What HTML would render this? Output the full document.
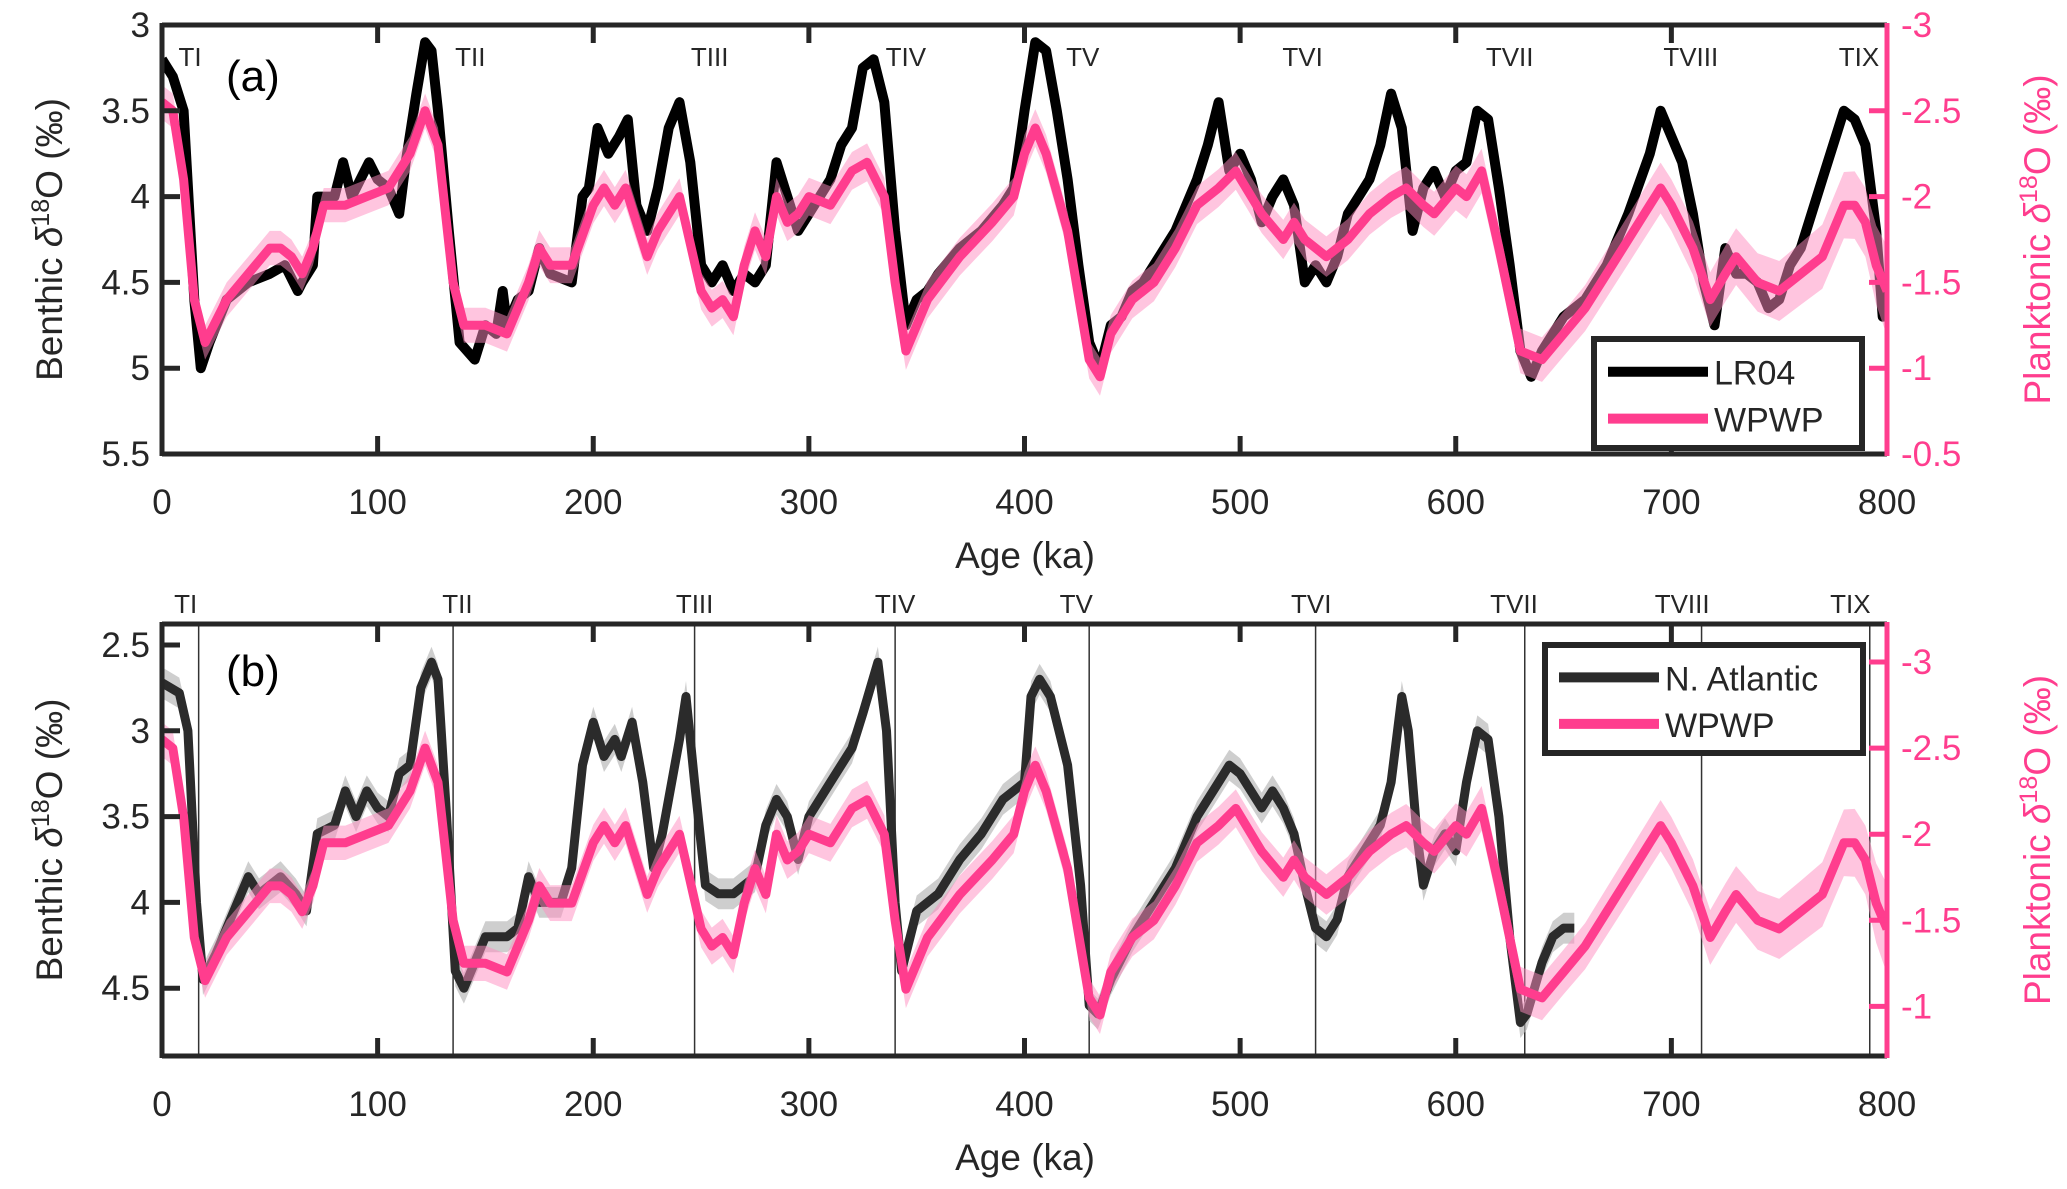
<!DOCTYPE html>
<html><head><meta charset="utf-8"><style>
html,body{margin:0;padding:0;background:#fff;}
svg{display:block;font-family:"Liberation Sans",Arial,sans-serif;}
</style></head><body>
<svg id="fig" width="2067" height="1189" viewBox="0 0 2067 1189" xmlns="http://www.w3.org/2000/svg"></svg>
<script>
// ---- data ----
const lr04Age=[0,5,10,15,18,22,30,40,50,57,63,65,70,72,80,84,88,92,96,100,105,110,113,118,122,125,128,133,138,145,150,155,158,160,165,170,175,180,190,195,198,202,207,212,216,220,225,230,235,240,245,250,255,260,265,270,275,280,285,290,295,300,310,315,320,325,330,335,340,345,350,355,360,370,380,390,395,400,405,410,415,420,425,430,435,440,445,450,455,460,470,480,485,490,495,500,505,510,515,520,525,530,535,540,545,550,555,560,565,570,575,580,585,590,595,600,605,610,615,620,625,630,635,640,645,650,660,670,680,690,695,700,705,710,715,720,725,730,735,740,745,750,755,760,770,780,785,790,795,798,800];
const lr04Val=[3.2,3.3,3.5,4.6,5.0,4.85,4.6,4.5,4.45,4.4,4.55,4.5,4.4,4.0,4.0,3.8,4.0,3.9,3.8,3.9,3.95,4.1,3.8,3.4,3.1,3.15,3.5,4.2,4.85,4.95,4.75,4.8,4.55,4.75,4.6,4.55,4.3,4.45,4.5,4.0,3.95,3.6,3.75,3.65,3.55,4.05,4.2,3.95,3.6,3.45,3.8,4.4,4.5,4.4,4.55,4.45,4.5,4.4,3.8,4.0,4.2,4.1,3.9,3.7,3.6,3.25,3.2,3.45,4.2,4.75,4.6,4.55,4.45,4.3,4.2,4.05,3.95,3.5,3.1,3.15,3.5,3.9,4.4,4.85,5.0,4.75,4.7,4.55,4.5,4.4,4.2,3.9,3.7,3.45,3.85,3.75,3.9,4.15,4.0,3.9,4.05,4.5,4.4,4.5,4.35,4.1,4.0,3.9,3.7,3.4,3.6,4.2,3.95,3.85,4.0,3.85,3.8,3.5,3.55,3.95,4.4,4.9,5.05,4.9,4.8,4.7,4.6,4.4,4.1,3.75,3.5,3.65,3.8,4.1,4.5,4.75,4.3,4.45,4.45,4.5,4.65,4.6,4.4,4.3,3.9,3.5,3.55,3.7,4.2,4.7,4.65];
const wpwpAge=[0,5,10,15,20,30,40,50,55,60,65,70,75,85,95,105,115,122,128,135,140,150,160,170,175,180,190,200,205,210,215,220,225,230,240,250,255,260,265,270,275,280,285,290,295,300,310,320,327,335,340,345,355,370,385,395,400,405,410,420,430,435,440,450,460,470,480,490,498,510,520,525,530,540,550,560,570,577,585,590,600,605,612,620,630,640,650,660,670,680,690,695,700,710,718,725,730,740,750,760,770,780,785,790,795,800];
const wpwpVal=[-2.55,-2.5,-2.1,-1.4,-1.15,-1.4,-1.55,-1.7,-1.7,-1.65,-1.55,-1.7,-1.95,-1.95,-2.0,-2.05,-2.25,-2.5,-2.3,-1.5,-1.25,-1.25,-1.2,-1.5,-1.7,-1.6,-1.6,-1.95,-2.05,-1.95,-2.05,-1.85,-1.65,-1.8,-2.0,-1.45,-1.35,-1.4,-1.3,-1.6,-1.8,-1.65,-2.0,-1.85,-1.9,-2.0,-1.95,-2.15,-2.2,-2.0,-1.5,-1.1,-1.4,-1.65,-1.85,-2.0,-2.25,-2.4,-2.25,-1.8,-1.05,-0.95,-1.2,-1.4,-1.5,-1.7,-1.95,-2.05,-2.15,-1.9,-1.75,-1.85,-1.75,-1.65,-1.75,-1.9,-2.0,-2.05,-1.95,-1.9,-2.05,-2.0,-2.15,-1.7,-1.1,-1.05,-1.2,-1.35,-1.55,-1.75,-1.95,-2.05,-1.95,-1.7,-1.4,-1.55,-1.65,-1.5,-1.45,-1.55,-1.65,-1.95,-1.95,-1.85,-1.6,-1.45];
const wpwpErrAge=[0,100,300,500,600,650,700,760,790,800];
const wpwpErrVal=[0.1,0.1,0.11,0.11,0.13,0.13,0.15,0.18,0.2,0.26];
const naAge=[0,8,12,16,19,25,35,40,45,55,62,67,72,80,85,90,95,100,105,110,115,120,125,128,132,136,140,145,150,160,165,170,175,185,190,195,200,205,210,213,218,223,228,232,240,243,247,252,258,265,270,275,280,285,290,295,300,310,320,325,332,336,340,343,345,350,360,370,380,390,400,403,407,412,420,426,430,434,440,450,460,470,480,490,495,500,505,510,515,520,525,530,535,540,545,550,555,560,565,570,575,578,582,585,590,595,600,605,610,615,620,625,630,633,640,645,650,655];
const naVal=[2.72,2.78,3.0,4.0,4.45,4.3,4.0,3.85,3.95,3.85,3.95,4.05,3.6,3.55,3.35,3.5,3.35,3.45,3.5,3.25,3.2,2.75,2.6,2.7,3.5,4.4,4.5,4.35,4.2,4.2,4.15,3.85,4.0,4.0,3.8,3.2,2.95,3.15,3.05,3.15,2.95,3.3,3.8,3.6,3.05,2.8,3.3,3.9,3.95,3.95,3.9,3.85,3.55,3.4,3.5,3.75,3.5,3.3,3.1,2.9,2.6,3.0,4.0,4.4,4.3,4.05,3.95,3.75,3.6,3.4,3.3,2.8,2.7,2.8,3.2,3.9,4.6,4.65,4.45,4.2,4.0,3.8,3.5,3.3,3.2,3.25,3.35,3.45,3.35,3.45,3.6,3.9,4.15,4.2,4.1,3.85,3.75,3.65,3.55,3.3,2.8,3.0,3.6,3.9,3.7,3.6,3.7,3.3,3.0,3.05,3.5,4.2,4.7,4.65,4.35,4.2,4.15,4.15];
const naErr=0.09;
const terminationNames=["TI","TII","TIII","TIV","TV","TVI","TVII","TVIII","TIX"];
const terminationAges=[17,135,247,340,430,535,632,714,792];
const termLabelA=[13,143,254,345,427,529,625,709,787];
const termLabelB=[11,137,247,340,424,533,627,705,783];
const xTicks=[0,100,200,300,400,500,600,700,800];
const aLeftTicks=[3,3.5,4,4.5,5,5.5];
const aRightTicks=[-3,-2.5,-2,-1.5,-1,-0.5];
const bLeftTicks=[2.5,3,3.5,4,4.5];
const bRightTicks=[-3,-2.5,-2,-1.5,-1];

// ---- geometry ----
const NS="http://www.w3.org/2000/svg";
const svg=document.getElementById('fig');
const X0=162,X1=1887;
const xs=a=>X0+(a/800)*(X1-X0);
const A={top:25,bot:454,lmin:3,lmax:5.5,rmin:-3,rmax:-0.5};
const B={top:624,bot:1056,lY0:645,lK:171.6,rY0:662,rK:172.2};
const aL=v=>A.top+(v-A.lmin)/(A.lmax-A.lmin)*(A.bot-A.top);
const aR=v=>A.top+(v-A.rmin)/(A.rmax-A.rmin)*(A.bot-A.top);
const bL=v=>B.lY0+(v-2.5)*B.lK;
const bR=v=>B.rY0+(v+3)*B.rK;
const PINK="#ff3d8e", TXT="#262626";
function mk(tag,attrs,parent){const e=document.createElementNS(NS,tag);for(const k in attrs)e.setAttribute(k,attrs[k]);(parent||svg).appendChild(e);return e;}
function interp(ax,vx,a){if(a<=ax[0])return vx[0];for(let i=1;i<ax.length;i++){if(a<=ax[i]){const t=(a-ax[i-1])/(ax[i]-ax[i-1]);return vx[i-1]+t*(vx[i]-vx[i-1]);}}return vx[vx.length-1];}
function linePath(ages,vals,ys){return ages.map((a,i)=>(i?'L':'M')+xs(a).toFixed(1)+','+ys(vals[i]).toFixed(1)).join('');}
function bandPath(ages,vals,errF,ys){let up=ages.map((a,i)=>xs(a).toFixed(1)+','+ys(vals[i]+errF(a)).toFixed(1));let dn=ages.map((a,i)=>xs(a).toFixed(1)+','+ys(vals[i]-errF(a)).toFixed(1)).reverse();return 'M'+up.join('L')+'L'+dn.join('L')+'Z';}
const wErr=a=>interp(wpwpErrAge,wpwpErrVal,a);

function panel(P,name,yl,yr,lt,rt,label,termX,naMode){
  const g=mk('g',{});
  
  
  const clip=mk('clipPath',{id:'clip'+name},g);
  mk('rect',{x:X0,y:P.top,width:X1-X0,height:P.bot-P.top},clip);
  const plot=mk('g',{'clip-path':'url(#clip'+name+')'},g);
  if(naMode){
    terminationAges.forEach((a,i)=>{const l=mk('line',{x1:xs(a),x2:xs(a),y1:P.top,y2:P.bot,stroke:'#333','stroke-width':1.5},plot);
      
      });
    const gb=mk('path',{d:bandPath(naAge,naVal,()=>naErr,yl),fill:'#b4b4b4','fill-opacity':0.65},plot);
    
    
    const nl=mk('path',{d:linePath(naAge,naVal,yl),fill:'none',stroke:'#2b2b2b','stroke-width':9,'stroke-linejoin':'round'},plot);
    
    
  } else {
    const ll=mk('path',{d:linePath(lr04Age,lr04Val,yl),fill:'none',stroke:'#000','stroke-width':10,'stroke-linejoin':'round'},plot);
    
    
  }
  const pb=mk('path',{d:bandPath(wpwpAge,wpwpVal,wErr,yr),fill:'#ff8cbf','fill-opacity':0.5},plot);
  
  
  const pl=mk('path',{d:linePath(wpwpAge,wpwpVal,yr),fill:'none',stroke:PINK,'stroke-width':9,'stroke-linejoin':'round'},plot);
  
  
  // axes box
  mk('path',{d:`M${X0},${P.top}H${X1}M${X0},${P.bot}H${X1}M${X0},${P.top-2}V${P.bot+2}`,stroke:TXT,'stroke-width':5,fill:'none'},g);
  mk('line',{x1:X1,x2:X1,y1:P.top-2,y2:P.bot+2,stroke:PINK,'stroke-width':5},g);
  xTicks.forEach(t=>{const x=xs(t);
    if(t>0&&t<800){mk('line',{x1:x,x2:x,y1:P.bot,y2:P.bot-18,stroke:TXT,'stroke-width':5},g);mk('line',{x1:x,x2:x,y1:P.top,y2:P.top+18,stroke:TXT,'stroke-width':5},g);}
    const tx=mk('text',{x:x,y:P.bot+60,'font-size':35,'text-anchor':'middle',fill:TXT},g);tx.textContent=t;
    
    });
  lt.forEach(t=>{const y=yl(t);
    if(y>P.top+3&&y<P.bot-3)mk('line',{x1:X0,x2:X0+18,y1:y,y2:y,stroke:TXT,'stroke-width':5},g);
    const tx=mk('text',{x:X0-12,y:y+12,'font-size':35,'text-anchor':'end',fill:TXT},g);tx.textContent=t;
    
    });
  rt.forEach(t=>{const y=yr(t);
    if(y>P.top+3&&y<P.bot-3)mk('line',{x1:X1,x2:X1-18,y1:y,y2:y,stroke:PINK,'stroke-width':5},g);
    const tx=mk('text',{x:X1+14,y:y+12,'font-size':35,'text-anchor':'start',fill:PINK},g);tx.textContent=t;
    
    });
  const at=mk('text',{x:1025,y:P.bot+114,'font-size':37,'text-anchor':'middle',fill:TXT},g);at.textContent='Age (ka)';
  
  
  const cy=(P.top+P.bot)/2;
  const lyt=mk('text',{x:0,y:0,'font-size':37,'text-anchor':'middle',fill:TXT,transform:`translate(62,${cy}) rotate(-90)`},g);
  lyt.innerHTML='Benthic <tspan font-style="italic">δ</tspan><tspan dy="-13" font-size="25">18</tspan><tspan dy="13">O (‰)</tspan>';
  
  
  const ryt=mk('text',{x:0,y:0,'font-size':37,'text-anchor':'middle',fill:PINK,transform:`translate(2050,${cy}) rotate(-90)`},g);
  ryt.innerHTML='Planktonic <tspan font-style="italic">δ</tspan><tspan dy="-13" font-size="25">18</tspan><tspan dy="13">O (‰)</tspan>';
  
  
  const pl2=mk('text',{x:226,y:P.top+(naMode?62:66),'font-size':44,fill:'#000'},g);pl2.textContent=label;
  
  
  terminationNames.forEach((n,i)=>{const y=naMode?P.top-11:P.top+41;
    const tx=mk('text',{x:xs(termX[i]),y:y,'font-size':26,'text-anchor':'middle',fill:TXT},g);tx.textContent=n;
    
    });
  return g;
}
panel(A,'panel-a',aL,aR,aLeftTicks,aRightTicks,'(a)',termLabelA,false);
panel(B,'panel-b',bL,bR,bLeftTicks,bRightTicks,'(b)',termLabelB,true);

function legend(x,y,w,h,items,name){
  const g=mk('g',{});
  
  
  mk('rect',{x:x,y:y,width:w,height:h,fill:'#fff',stroke:'#262626','stroke-width':6},g);
  items.forEach((it,i)=>{const yy=y+h*(i===0?0.3:0.73);
    const e=mk('g',{},g);
    
    
    mk('line',{x1:x+14,x2:x+114,y1:yy,y2:yy,stroke:it[1],'stroke-width':10},e);
    const t=mk('text',{x:x+120,y:yy+13,'font-size':34,fill:TXT},e);t.textContent=it[0];});
}
legend(1594,339,268,109,[['LR04','#000'],['WPWP',PINK]],'legend-a');
legend(1545,645,318,108,[['N. Atlantic','#2b2b2b'],['WPWP',PINK]],'legend-b');
</script>
</body></html>
